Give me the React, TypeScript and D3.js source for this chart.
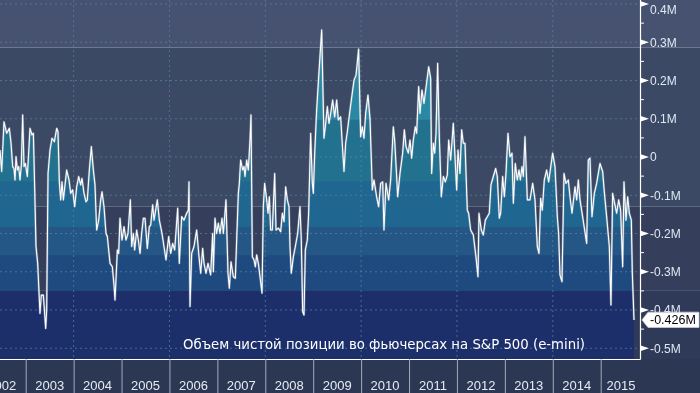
import React from 'react';
import * as d3 from 'd3';

// weekly net position, [decimal year, millions of contracts]
const netPosition: [number, number][] = [
  [2002.464, 0.018], [2002.499, -0.038], [2002.547, 0.092], [2002.603, 0.062], [2002.659, 0.075],
  [2002.694, 0.036], [2002.728, -0.025], [2002.756, -0.030], [2002.777, -0.060], [2002.798, 0.001],
  [2002.826, -0.034], [2002.854, -0.025], [2002.881, -0.060], [2002.909, -0.021], [2002.937, 0.110],
  [2002.965, -0.025], [2002.993, -0.017], [2003.034, -0.051], [2003.090, 0.075], [2003.132, 0.058],
  [2003.160, 0.062], [2003.187, -0.078], [2003.215, -0.234], [2003.250, -0.278], [2003.298, -0.409],
  [2003.326, -0.361], [2003.368, -0.361], [2003.417, -0.448], [2003.438, -0.400], [2003.466, -0.043],
  [2003.507, 0.018], [2003.549, 0.049], [2003.598, 0.040], [2003.647, 0.075], [2003.674, 0.066],
  [2003.702, -0.065], [2003.730, -0.112], [2003.758, -0.065], [2003.786, -0.112], [2003.855, -0.034],
  [2003.904, -0.060], [2003.939, -0.095], [2003.981, -0.086], [2004.022, -0.130], [2004.064, -0.078],
  [2004.106, -0.051], [2004.147, -0.073], [2004.175, -0.056], [2004.217, -0.095], [2004.259, -0.117],
  [2004.286, -0.112], [2004.328, -0.034], [2004.370, 0.027], [2004.412, -0.034], [2004.446, -0.073],
  [2004.481, -0.191], [2004.523, -0.165], [2004.565, -0.112], [2004.593, -0.091], [2004.634, -0.130],
  [2004.676, -0.200], [2004.704, -0.208], [2004.760, -0.278], [2004.808, -0.287], [2004.843, -0.335],
  [2004.864, -0.374], [2004.913, -0.243], [2004.940, -0.252], [2004.968, -0.160], [2005.010, -0.217],
  [2005.052, -0.182], [2005.093, -0.217], [2005.135, -0.200], [2005.184, -0.112], [2005.212, -0.234],
  [2005.246, -0.200], [2005.274, -0.243], [2005.316, -0.191], [2005.351, -0.217], [2005.386, -0.252],
  [2005.420, -0.200], [2005.455, -0.160], [2005.490, -0.160], [2005.538, -0.239], [2005.580, -0.182],
  [2005.608, -0.178], [2005.650, -0.125], [2005.678, -0.165], [2005.747, -0.112], [2005.789, -0.165],
  [2005.845, -0.200], [2005.886, -0.234], [2005.928, -0.269], [2005.984, -0.208], [2006.026, -0.252],
  [2006.067, -0.226], [2006.109, -0.243], [2006.172, -0.134], [2006.206, -0.278], [2006.255, -0.156],
  [2006.304, -0.165], [2006.359, -0.147], [2006.394, -0.139], [2006.408, -0.065], [2006.429, -0.391],
  [2006.464, -0.252], [2006.512, -0.234], [2006.568, -0.191], [2006.617, -0.261], [2006.652, -0.304],
  [2006.693, -0.239], [2006.721, -0.278], [2006.763, -0.304], [2006.805, -0.278], [2006.860, -0.308],
  [2006.902, -0.200], [2006.916, -0.300], [2006.951, -0.160], [2006.985, -0.200], [2007.020, -0.173],
  [2007.055, -0.200], [2007.097, -0.160], [2007.125, -0.200], [2007.180, -0.112], [2007.222, -0.304],
  [2007.250, -0.343], [2007.285, -0.274], [2007.333, -0.313], [2007.375, -0.317], [2007.403, -0.217],
  [2007.438, -0.095], [2007.458, -0.069], [2007.486, -0.008], [2007.528, -0.034], [2007.556, -0.025],
  [2007.577, -0.051], [2007.612, -0.008], [2007.646, -0.034], [2007.681, 0.044], [2007.702, 0.110],
  [2007.730, -0.261], [2007.765, -0.269], [2007.793, -0.287], [2007.820, -0.256], [2007.855, -0.278],
  [2007.890, -0.313], [2007.932, -0.356], [2007.959, -0.130], [2007.987, -0.069], [2008.029, -0.112],
  [2008.057, -0.147], [2008.085, -0.104], [2008.112, -0.191], [2008.147, -0.191], [2008.196, -0.043],
  [2008.224, -0.191], [2008.272, -0.186], [2008.321, -0.195], [2008.356, -0.147], [2008.391, -0.169],
  [2008.425, -0.078], [2008.460, -0.112], [2008.495, -0.130], [2008.516, -0.234], [2008.543, -0.304],
  [2008.585, -0.261], [2008.627, -0.234], [2008.676, -0.200], [2008.724, -0.130], [2008.752, -0.217],
  [2008.780, -0.404], [2008.808, -0.413], [2008.836, -0.243], [2008.877, -0.217], [2008.905, -0.147],
  [2008.947, 0.062], [2008.982, -0.069], [2009.003, -0.095], [2009.031, 0.010], [2009.072, 0.123],
  [2009.121, 0.223], [2009.177, 0.332], [2009.225, 0.049], [2009.253, 0.079], [2009.295, 0.132],
  [2009.330, 0.088], [2009.365, 0.114], [2009.406, 0.149], [2009.448, 0.105], [2009.490, 0.149],
  [2009.525, 0.097], [2009.573, 0.105], [2009.615, 0.018], [2009.643, -0.038], [2009.677, 0.036],
  [2009.712, 0.066], [2009.768, 0.123], [2009.796, 0.149], [2009.852, 0.201], [2009.894, 0.214],
  [2009.948, 0.282], [2009.990, 0.053], [2010.025, 0.079], [2010.060, 0.049], [2010.095, 0.114],
  [2010.143, 0.162], [2010.185, 0.101], [2010.234, -0.086], [2010.268, -0.060], [2010.324, -0.104],
  [2010.366, -0.130], [2010.408, -0.069], [2010.450, -0.065], [2010.477, -0.191], [2010.519, -0.069],
  [2010.575, -0.112], [2010.616, -0.060], [2010.672, 0.079], [2010.700, 0.044], [2010.742, -0.051],
  [2010.763, -0.104], [2010.811, -0.043], [2010.867, 0.010], [2010.902, 0.071], [2010.937, 0.027],
  [2010.985, 0.010], [2011.020, 0.044], [2011.055, -0.003], [2011.089, 0.044], [2011.131, 0.079],
  [2011.159, 0.062], [2011.201, 0.184], [2011.229, 0.114], [2011.270, 0.175], [2011.312, 0.140],
  [2011.410, 0.236], [2011.451, 0.206], [2011.472, -0.043], [2011.507, 0.036], [2011.535, 0.010],
  [2011.563, 0.062], [2011.597, 0.245], [2011.632, 0.053], [2011.674, -0.104], [2011.716, -0.051],
  [2011.757, -0.065], [2011.799, -0.047], [2011.827, 0.044], [2011.869, -0.008], [2011.924, 0.088],
  [2011.994, -0.086], [2012.022, 0.018], [2012.063, -0.043], [2012.098, 0.071], [2012.133, 0.036],
  [2012.168, 0.036], [2012.216, -0.139], [2012.244, -0.147], [2012.286, -0.191], [2012.342, -0.204],
  [2012.397, -0.261], [2012.439, -0.313], [2012.460, -0.147], [2012.508, -0.191], [2012.550, -0.204],
  [2012.592, -0.165], [2012.634, -0.156], [2012.675, -0.147], [2012.710, -0.073], [2012.759, -0.051],
  [2012.808, -0.030], [2012.842, -0.051], [2012.884, -0.160], [2012.912, -0.147], [2012.954, -0.051],
  [2012.989, -0.104], [2013.023, -0.043], [2013.065, 0.062], [2013.107, 0.001], [2013.149, 0.010],
  [2013.177, -0.121], [2013.218, -0.017], [2013.260, -0.060], [2013.295, -0.034], [2013.323, -0.060],
  [2013.357, -0.025], [2013.385, -0.051], [2013.420, 0.053], [2013.469, -0.112], [2013.524, -0.112],
  [2013.580, -0.069], [2013.629, -0.112], [2013.677, -0.234], [2013.712, -0.252], [2013.747, -0.108],
  [2013.781, -0.139], [2013.823, -0.060], [2013.872, -0.034], [2013.914, -0.065], [2013.997, 0.010],
  [2014.046, -0.025], [2014.095, -0.156], [2014.122, -0.200], [2014.150, -0.308], [2014.192, -0.326],
  [2014.234, -0.043], [2014.275, -0.069], [2014.324, -0.060], [2014.359, -0.104], [2014.401, -0.147],
  [2014.464, -0.078], [2014.498, -0.112], [2014.533, -0.060], [2014.568, -0.112], [2014.623, -0.156],
  [2014.707, -0.226], [2014.741, -0.008], [2014.776, -0.003], [2014.818, -0.156], [2014.867, -0.095],
  [2014.915, -0.069], [2014.985, -0.017], [2015.041, -0.038], [2015.075, -0.091], [2015.124, -0.156],
  [2015.180, -0.234], [2015.214, -0.387], [2015.249, -0.095], [2015.291, -0.121], [2015.333, -0.147],
  [2015.375, -0.112], [2015.416, -0.139], [2015.458, -0.287], [2015.486, -0.065], [2015.528, -0.165],
  [2015.563, -0.104], [2015.597, -0.147], [2015.639, -0.165], [2015.660, -0.304], [2015.695, -0.426],
];

const yTicks = [0.4, 0.3, 0.2, 0.1, 0, -0.1, -0.2, -0.3, -0.4, -0.5];
const yTickLabels = ['0.4M', '0.3M', '0.2M', '0.1M', '0', '-0.1M', '-0.2M', '-0.3M', '-0.4M', '-0.5M'];
const yearLabels = [2002, 2003, 2004, 2005, 2006, 2007, 2008, 2009, 2010, 2011, 2012, 2013, 2014, 2015];
const gridYears = [2004, 2006, 2008, 2010, 2012, 2014];
const legendText = 'Объем чистой позиции во фьючерсах на S&P 500 (e-mini)';
const lastValueLabel = '-0.426M';

const W = 700;
const H = 393;
const plotRight = 640;
const plotBottom = 359;

// background + fill colour steps (top edge as a value level)
const bgBands: [number, string][] = [
  [0.5, '#465270'],
  [0.286, '#3c4964'],
  [-0.13, '#353f5c'],
  [-0.35, '#2f3a58'],
];
const fillBands: [number, string][] = [
  [0.5, '#2789a3'],
  [0.097, '#22728f'],
  [-0.065, '#1f6690'],
  [-0.183, '#245785'],
  [-0.258, '#1f4a80'],
  [-0.35, '#1c2f6b'],
];

const font = '"Liberation Sans", Arial, sans-serif';

export default function App() {
  const x = d3.scaleLinear().domain([2003, 2015]).range([25.7, 600.7]);
  const y = d3.scaleLinear().domain([-0.5, 0.4]).range([348.25, 4]);

  const line = d3.line<[number, number]>().x(d => x(d[0])).y(d => y(d[1]));
  const area = d3.area<[number, number]>().x(d => x(d[0])).y0(plotBottom).y1(d => y(d[1]));

  const bandRects = (bands: [number, string][], width: number) =>
    bands.map(([top, color], i) => {
      const y0 = Math.max(0, y(top));
      const y1 = i < bands.length - 1 ? y(bands[i + 1][0]) : plotBottom;
      return <rect key={i} x={0} y={y0} width={width} height={y1 - y0} fill={color} />;
    });

  const minorTicks = d3.range(-0.45, 0.4, 0.1);
  const last = netPosition[netPosition.length - 1];
  const ly = y(last[1]);

  return (
    <svg width={W} height={H} style={{ position: 'fixed', left: 0, top: 0, display: 'block' }}>
      <defs>
        <clipPath id="areaClip">
          <path d={area(netPosition) || ''} />
        </clipPath>
        <clipPath id="plotClip">
          <rect x={0} y={0} width={plotRight} height={plotBottom} />
        </clipPath>
      </defs>

      {bandRects(bgBands, W)}
      <rect x={0} y={plotBottom} width={W} height={H - plotBottom} fill="#2c3853" />

      <g clipPath="url(#areaClip)">{bandRects(fillBands, plotRight)}</g>

      {/* grid */}
      <g stroke="#5686a2" strokeOpacity={0.7} strokeDasharray="2,3" strokeWidth={1}>
        {yTicks.map(t => (
          <line key={t} x1={0} x2={plotRight} y1={y(t)} y2={y(t)} />
        ))}
        {gridYears.map(yr => (
          <line key={yr} x1={x(yr)} x2={x(yr)} y1={0} y2={plotBottom} />
        ))}
      </g>

      <g clipPath="url(#plotClip)">
        <path d={line(netPosition) || ''} fill="none" stroke="#a9b8ca" strokeOpacity={0.45} strokeWidth={2.3} strokeLinejoin="round" />
        <path d={line(netPosition) || ''} fill="none" stroke="#ffffff" strokeWidth={1.1} strokeLinejoin="round" />
      </g>

      <text x={183} y={348.5} fill="#ffffff" fontFamily='"DejaVu Sans", sans-serif' fontSize={13.5}
        textLength={402} lengthAdjust="spacingAndGlyphs">
        {legendText}
      </text>

      {/* frame */}
      <line x1={0} x2={plotRight + 0.5} y1={plotBottom + 0.5} y2={plotBottom + 0.5} stroke="#ffffff" strokeWidth={1.2} />
      <line x1={plotRight + 0.5} x2={plotRight + 0.5} y1={0} y2={plotBottom + 0.5} stroke="#ffffff" strokeWidth={1.2} />

      {/* right axis */}
      {minorTicks.map(t => (
        <line key={t} x1={plotRight} x2={plotRight + 4} y1={y(t)} y2={y(t)} stroke="#ffffff" />
      ))}
      {yTicks.map((t, i) => {
        const ty = y(t);
        return (
          <g key={t}>
            <polygon points={`${plotRight},${ty - 3} ${plotRight + 9},${ty} ${plotRight},${ty + 3}`} fill="#ffffff" />
            <text x={650} y={Math.max(ty, 9.5)} dy="0.36em" fill="#dfe8f2" fontFamily={font} fontSize={12}>
              {yTickLabels[i]}
            </text>
          </g>
        );
      })}

      {/* last value tag */}
      <polygon
        points={`${plotRight + 2},${ly} ${plotRight + 8},${ly - 7.8} ${W - 1},${ly - 7.8} ${W - 1},${ly + 7.5} ${plotRight + 8},${ly + 7.5}`}
        fill="#ffffff" stroke="#c9ced6" strokeWidth={0.8}
      />
      <text x={650} y={ly} dy="0.36em" fill="#000000" fontFamily={font} fontSize={12.5}>
        {lastValueLabel}
      </text>

      {/* bottom axis */}
      {yearLabels.map(yr => (
        <line key={yr} x1={x(yr) + 0.5} x2={x(yr) + 0.5} y1={plotBottom} y2={H} stroke="#a3abb9" strokeWidth={1} />
      ))}
      {yearLabels.map(yr => (
        <text key={yr} x={Math.min(x(yr + 0.5), 621)} y={390} textAnchor="middle" fill="#e6ebf2"
          fontFamily={font} fontSize={13}>
          {yr}
        </text>
      ))}
    </svg>
  );
}
